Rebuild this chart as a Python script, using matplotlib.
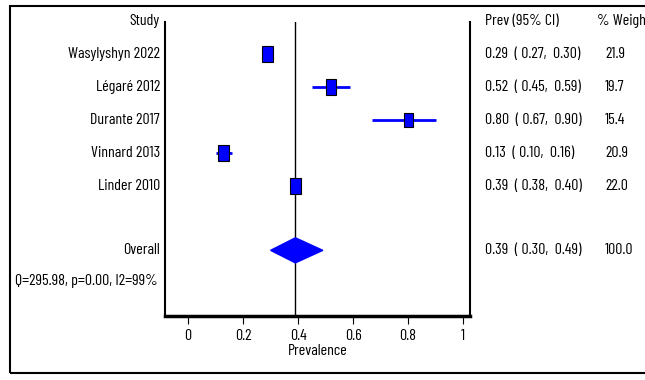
import matplotlib
matplotlib.use("Agg")
import matplotlib.pyplot as plt
import matplotlib.patches as mpatches
from matplotlib.transforms import blended_transform_factory

plt.rcParams['font.family'] = ['Barlow Condensed', 'Roboto Condensed', 'DejaVu Sans']

# data
studies = ['Wasylyshyn 2022', 'Légaré 2012', 'Durante 2017', 'Vinnard 2013', 'Linder 2010']
prev = [0.29, 0.52, 0.80, 0.13, 0.39]
ci_low = [0.27, 0.45, 0.67, 0.10, 0.38]
ci_high = [0.30, 0.59, 0.90, 0.16, 0.40]
weights = [21.9, 19.7, 15.4, 20.9, 22.0]
overall = 0.39
overall_low = 0.30
overall_high = 0.49
overall_weight = 100.0
het_text = 'Q=295.98, p=0.00, I2=99%'
xticks = [0, 0.2, 0.4, 0.6, 0.8, 1]
xticklabels = ['0', '0.2', '0.4', '0.6', '0.8', '1']

W, H = 645, 380
fig = plt.figure(figsize=(W / 100, H / 100), dpi=100)
ax = fig.add_axes([165 / W, 1 - 316 / H, (470 - 165) / W, (316 - 22) / H])

blue = '#0000ff'
fs = 11.5

rows = list(range(1, len(studies) + 1))
overall_row = 6.95
het_row = 7.88

# CIs and weighted squares
wmax = max(weights)
for r, p, lo, hi, w in zip(rows, prev, ci_low, ci_high, weights):
    ax.plot([lo, hi], [r, r], color=blue, lw=2, solid_capstyle='butt', zorder=2)
    s = (w / wmax) ** 0.5
    bw, bh = 0.04 * s, 0.5 * s
    ax.add_patch(mpatches.Rectangle((p - bw / 2, r - bh / 2), bw, bh,
                                    facecolor=blue, edgecolor='black', lw=0.8, zorder=3))

# overall diamond
ax.add_patch(mpatches.Polygon([[overall_low, overall_row], [overall, overall_row - 0.38],
                               [overall_high, overall_row], [overall, overall_row + 0.38]],
                              closed=True, facecolor=blue, edgecolor=blue, zorder=3))
ax.axvline(overall, color='black', lw=1, zorder=1)

ax.set_xlim(-0.084, 1.025)
ax.set_ylim(8.94, 0.03)
ax.set_xticks(xticks)
ax.set_xticklabels(xticklabels, fontsize=fs)
ax.set_yticks([])
ax.tick_params(axis='x', direction='out', length=6, width=0.8, pad=3)
ax.set_xlabel('Prevalence', fontsize=fs, labelpad=1)
ax.spines['top'].set_visible(False)
ax.spines['left'].set_linewidth(1.5)
ax.spines['right'].set_linewidth(1.5)
ax.spines['bottom'].set_linewidth(2.5)

# text columns
tr = blended_transform_factory(fig.transFigure, ax.transData)
kw = dict(transform=tr, va='center', fontsize=fs, clip_on=False)
ax.text(160 / W, 0, 'Study', ha='right', **kw)
ax.text(485 / W, 0, 'Prev (95% CI)', ha='left', **kw)
ax.text(597 / W, 0, '% Weight', ha='left', **kw)
for r, name, p, lo, hi, w in zip(rows, studies, prev, ci_low, ci_high, weights):
    ax.text(160 / W, r, name, ha='right', **kw)
    ax.text(485 / W, r, f'{p:.2f}  ( {lo:.2f},  {hi:.2f})', ha='left', **kw)
    ax.text(605 / W, r, f'{w:.1f}', ha='left', **kw)
ax.text(160 / W, overall_row, 'Overall', ha='right', **kw)
ax.text(485 / W, overall_row, f'{overall:.2f}  ( {overall_low:.2f},  {overall_high:.2f})', ha='left', **kw)
ax.text(605 / W, overall_row, f'{overall_weight:.1f}', ha='left', **kw)
ax.text(15 / W, het_row, het_text, ha='left', **kw)

# outer frame
fig.add_artist(mpatches.Rectangle((10 / W, 1 - 373 / H), 1.0, (373 - 6) / H,
                                  transform=fig.transFigure, fill=False, edgecolor='black', lw=1.5))

fig.savefig('out.png', dpi=100)
